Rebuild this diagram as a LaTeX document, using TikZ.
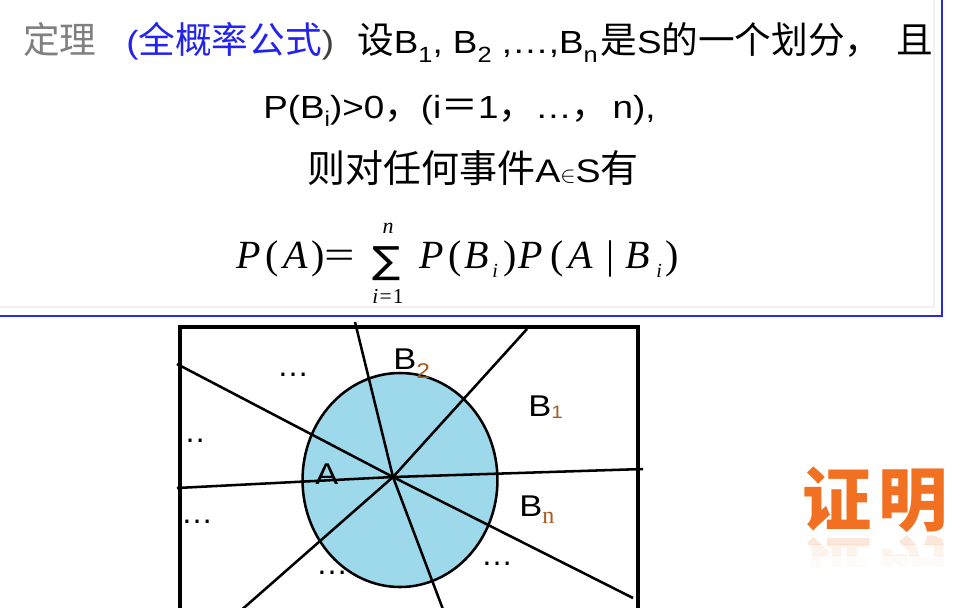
\documentclass[tikz,border=0pt]{standalone}
\usepackage{fontspec}
\usepackage{graphicx}
\setmainfont{Liberation Sans}
\newfontfamily\cjk{Noto Sans CJK SC}
\newfontfamily\tms{Liberation Serif}
\newfontfamily\djv{DejaVu Sans}
\newcommand\fs[1]{\fontsize{#1}{#1}\selectfont}
\newcommand\La[2]{\scalebox{1.15}[1]{\normalfont\fs{#1}#2}}
\newcommand\lsub[1]{\raisebox{-6.75pt}{\fs{16.5pt}#1}}
\definecolor{diskblue}{RGB}{157,217,234}
\definecolor{boxblue}{RGB}{40,40,225}
\definecolor{titleblue}{RGB}{35,35,240}
\definecolor{subc}{RGB}{170,90,30}
\definecolor{proofor}{RGB}{242,112,34}
\begin{document}
\begin{tikzpicture}[x=0.75pt,y=-0.75pt,
  txt/.style={anchor=base west,inner sep=0pt},
  fm/.style={anchor=base west,inner sep=0pt,font=\tms\fs{30pt}},
  fmi/.style={anchor=base west,inner sep=0pt,font=\tms\itshape\fs{30pt}},
  fsub/.style={anchor=base west,inner sep=0pt,font=\tms\itshape\fs{15pt}},
  part/.style={line width=1.9pt,black},
  dots/.style={anchor=base,inner sep=0pt,font=\fs{24pt}}]
\clip (0,0) rectangle (969,607);
\fill[white] (0,0) rectangle (969,607);
% theorem frame
\draw[gray!12,line width=1.2pt] (-10,307) -- (934,307) -- (934,-10);
\draw[boxblue,line width=1.9pt] (-10,316) -- (942,316) -- (942,-10);
% line 1
\node[txt] (t1) at (23,53) {\cjk\fs{27.5pt}\color{gray}定理};
\node[txt] (t2) at (126,53) {\color{titleblue}\La{24pt}{(}\cjk\fs{27.5pt}全概率公式\color{darkgray}\La{24pt}{)}};
\node[txt] (t3) at (357,53) {\cjk\fs{27.5pt}设\La{24pt}{B\lsub{1}, B\lsub{2} ,…,B\lsub{n}}\hspace{2pt}是\La{24pt}{S}的一个划分，\hspace{11pt}且};
% line 2
\node[txt] (t4) at (263,118) {\La{24pt}{P(B\raisebox{-6pt}{\fs{16pt}i})>0}\cjk\fs{27.5pt}，\La{24pt}{(i}＝\La{24pt}{1}，\La{24pt}{…}，\hspace{3pt}\La{24pt}{n),}};
% line 3
\node[txt] (t5) at (307,182) {\cjk\fs{28.5pt}则对任何事件\La{24.5pt}{A}{\fs{18pt}$\in$}\La{24.5pt}{S}有};
% formula
\node[fmi] (fP1) at (236,268) {P};
\node[fm]  (fo1) at (265,268) {(};
\node[fmi] (fA1) at (283,268) {A};
\node[fm]  (fc1) at (311,268) {)};
\node[fm]  (feq) at (324,268) {\scalebox{1.35}[1]{=}};
\node[inner sep=0pt] (sum) at (387,264) {\djv\fs{28pt}\scalebox{1.12}[1]{∑}};
\node[anchor=base,inner sep=0pt] (sn) at (388,233) {\tms\itshape\fs{16.5pt}n};
\node[anchor=base,inner sep=0pt] (si) at (388,303) {\tms\fs{16pt}\textit{i}\hspace{1pt}=\hspace{1pt}1};
\node[fmi] (fP2) at (419,268) {P};
\node[fm]  (fo2) at (448,268) {(};
\node[fmi] (fB2) at (464,268) {B};
\node[fsub] (fi2) at (492,277) {i};
\node[fm]  (fc2) at (503,268) {)};
\node[fmi] (fP3) at (518,268) {P};
\node[fm]  (fo3) at (550,268) {(};
\node[fmi] (fA3) at (568,268) {A};
\node[fm]  (fbar) at (606,268) {|};
\node[fmi] (fB3) at (625,268) {B};
\node[fsub] (fi3) at (656,277) {i};
\node[fm]  (fc3) at (665,268) {)};
% Venn-type diagram
\draw[line width=1.9pt,fill=diskblue] (400,480) ellipse [x radius=73.1pt, y radius=80.25pt];
\coordinate (O) at (393,477);
\coordinate (e1) at (527,329);
\coordinate (e2) at (355,322);
\coordinate (e3) at (177,364);
\coordinate (e4) at (177,488);
\coordinate (e5) at (230,620);
\coordinate (e6) at (447,620);
\coordinate (e7) at (633,598);
\coordinate (e8) at (643,469);
\foreach \e in {e1,e2,e3,e4,e5,e6,e7,e8} \draw[part] (O) -- (\e);
\draw[line width=3.6pt] (180,327) rectangle (638,660);
% labels
\node[txt] (lB2) at (393,369) {\La{22.5pt}{B}\raisebox{-6.75pt}{\color{subc}\La{16pt}{2}}};
\node[txt] (lB1) at (528,416) {\La{22.5pt}{B}\raisebox{-1.5pt}{\color{subc}\La{13.5pt}{1}}};
\node[txt] (lBn) at (519,516) {\La{22.5pt}{B}\raisebox{-5.25pt}{\color{subc}\tms\fs{18pt}n}};
\node[txt] (lA) at (315,484) {\La{22.5pt}{A}};
\node[dots] (d1) at (293,376) {…};
\node[dots] (d2) at (190,442) {…};
\node[dots] (d3) at (197,523) {…};
\node[dots] (d4) at (332,574) {…};
\node[dots] (d5) at (497,565) {…};
% proof (with faint reflection)
\begin{scope}
\clip (790,533) rectangle (969,544);
\node[inner sep=0pt,opacity=0.16] (refla) at (875,568) {\scalebox{1}[-1]{\cjk\bfseries\fs{52pt}\color{proofor}证\hspace{5pt}明}};
\end{scope}
\begin{scope}
\clip (790,544) rectangle (969,555);
\node[inner sep=0pt,opacity=0.08] (reflb) at (875,568) {\scalebox{1}[-1]{\cjk\bfseries\fs{52pt}\color{proofor}证\hspace{5pt}明}};
\end{scope}
\begin{scope}
\clip (790,555) rectangle (969,566);
\node[inner sep=0pt,opacity=0.03] (reflc) at (875,568) {\scalebox{1}[-1]{\cjk\bfseries\fs{52pt}\color{proofor}证\hspace{5pt}明}};
\end{scope}
\node[inner sep=0pt] (proof) at (875,500) {\cjk\bfseries\fs{52pt}\color{proofor}证\hspace{5pt}明};
\end{tikzpicture}
\end{document}
